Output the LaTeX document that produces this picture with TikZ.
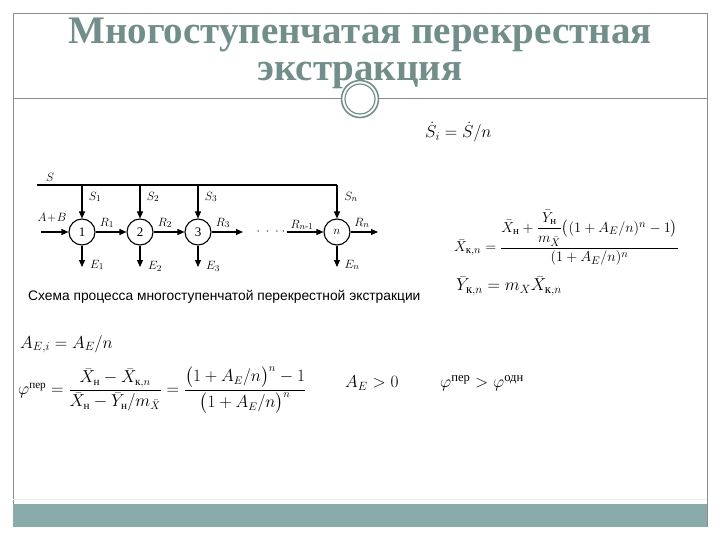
\documentclass[tikz,border=0pt]{standalone}
\usepackage{amsmath}
\usepackage{fontspec}
\setmainfont{Liberation Serif}
\newfontfamily\capfont{Liberation Sans}
\usetikzlibrary{arrows.meta}
\definecolor{titlecol}{HTML}{718E8A}
\definecolor{barcol}{HTML}{8AABAB}
\definecolor{framecol}{HTML}{8C8C8C}
\tikzset{
  arr/.style={line width=1.1pt,-{Triangle[length=7pt,width=6pt]}},
  stage/.style={circle,draw,line width=1.1pt,minimum size=26pt,inner sep=0pt,font=\fontsize{13}{13}\selectfont},
  lbl/.style={inner sep=0pt,font=\fontsize{13}{13}\selectfont},
  frm/.style={inner sep=0pt,font=\fontsize{16}{18}\selectfont},
  frmb/.style={inner sep=0pt,font=\fontsize{15.5}{18}\selectfont},
  frms/.style={inner sep=0pt,font=\fontsize{18}{20}\selectfont},
  ttl/.style={inner sep=0pt,text=titlecol,font=\fontsize{39}{39}\selectfont\bfseries}
}
\begin{document}
\begin{tikzpicture}[x=1pt,y=-1pt]
\useasboundingbox (0,0) rectangle (720,540);
% frame
\draw[framecol,line width=0.8pt] (13,13) -- (707,13);
\draw[framecol,line width=0.8pt] (13,13) -- (13,527);
\draw[framecol,line width=0.8pt] (707,13) -- (707,527);
\draw[framecol,line width=0.8pt] (13,98) -- (707,98);
\fill[barcol] (13,504) rectangle (707,527);
\draw[black!8,line width=0.6pt] (13,499) -- (707,499);
% ornament
\node[circle,fill=white,draw=titlecol,line width=1.6pt,minimum size=37pt,inner sep=0pt] (orn) at (360,99) {};
\node[circle,draw=titlecol,line width=1.2pt,minimum size=30pt,inner sep=0pt] (orni) at (360,99) {};
% title
\node[ttl] (t1) at (360,35) {Многоступенчатая перекрестная};
\node[ttl] (t2) at (360,75) {экстракция};
% scheme
\coordinate (sl) at (37,185);
\coordinate (sr) at (337,185);
\draw[line width=1.1pt] (sl) -- (sr);
\node[lbl] (S) at (50,177) {$S$};
\node[stage] (c1) at (82,232) {1};
\node[stage] (c2) at (140,232) {2};
\node[stage] (c3) at (198,232) {3};
\node[stage] (cn) at (337,232) {$n$};
\coordinate (s1) at (82,185);
\coordinate (s2) at (140,185);
\coordinate (s3) at (198,185);
\draw[arr] (s1) -- (c1);
\draw[arr] (s2) -- (c2);
\draw[arr] (s3) -- (c3);
\draw[arr] (sr) -- (cn);
\node[lbl] (S1) at (95,197) {$S_1$};
\node[lbl] (S2) at (153,197) {$S_2$};
\node[lbl] (S3) at (211,197) {$S_3$};
\node[lbl] (Sn) at (351,197) {$S_n$};
\coordinate (in) at (41,232);
\draw[arr] (in) -- (c1);
\node[lbl] (AB) at (52,218) {$A\!+\!B$};
\draw[arr] (c1) -- (c2);
\draw[arr] (c2) -- (c3);
\coordinate (r3) at (243,232);
\draw[arr] (c3) -- (r3);
\node[lbl] (R1) at (107,223) {$R_1$};
\node[lbl] (R2) at (165,223) {$R_2$};
\node[lbl] (R3) at (223,223) {$R_3$};
\node[lbl] (dots) at (271,232) {$\cdot\;\cdot\;\cdot\;\cdot$};
\coordinate (rn1) at (287,232);
\draw[arr] (rn1) -- (cn);
\node[lbl] (Rn1) at (302,225) {$R_{n\text{-}1}$};
\coordinate (rn) at (378,232);
\draw[arr] (cn) -- (rn);
\node[lbl] (Rn) at (362,223) {$R_n$};
\coordinate (e1) at (82,267);
\coordinate (e2) at (140,267);
\coordinate (e3) at (198,267);
\coordinate (en) at (337,267);
\draw[arr] (c1) -- (e1);
\draw[arr] (c2) -- (e2);
\draw[arr] (c3) -- (e3);
\draw[arr] (cn) -- (en);
\node[lbl] (E1) at (97,265) {$E_1$};
\node[lbl] (E2) at (155,266) {$E_2$};
\node[lbl] (E3) at (213,266) {$E_3$};
\node[lbl] (En) at (352,265) {$E_n$};
% caption
\node[inner sep=0pt,anchor=west,font=\capfont\fontsize{13.8}{15}\selectfont] (cap) at (28,297) {Схема процесса многоступенчатой перекрестной экстракции};
% formulas
\node[frms,anchor=west] (f1) at (425,132) {$\dot S_i=\dot S/n$};
\node[frmb,anchor=west] (f2) at (454,238) {$\bar X_{\text{к},n}=\dfrac{\bar X_{\text{н}}+\dfrac{\bar Y_{\text{н}}}{m_{\bar X}}\bigl((1+A_E/n)^n-1\bigr)}{(1+A_E/n)^n}$};
\node[frms,anchor=west] (f3) at (456,286) {$\bar Y_{\text{к},n}=m_X\bar X_{\text{к},n}$};
\node[frms,anchor=west] (f4) at (20,344) {$A_{E,i}=A_E/n$};
\node[frm,anchor=west] (f5) at (18,390) {$\varphi^{\text{пер}}=\dfrac{\bar X_{\text{н}}-\bar X_{\text{к},n}}{\bar X_{\text{н}}-\bar Y_{\text{н}}/m_{\bar X}}=\dfrac{\bigl(1+A_E/n\bigr)^n-1}{\bigl(1+A_E/n\bigr)^n}$};
\node[frms,anchor=west] (f6) at (345,383) {$A_E>0$};
\node[frms,anchor=west] (f7) at (440,383) {$\varphi^{\text{пер}}>\varphi^{\text{одн}}$};
\end{tikzpicture}
\end{document}
